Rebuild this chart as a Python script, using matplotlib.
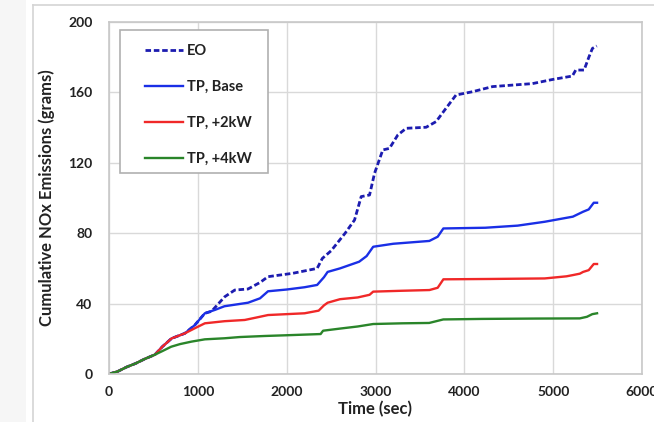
import matplotlib
matplotlib.use("Agg")
import matplotlib.pyplot as plt
from matplotlib.lines import Line2D
from matplotlib.patches import Rectangle

plt.rcParams['font.family'] = ['Lato', 'DejaVu Sans']
plt.rcParams['font.weight'] = 'bold'

# --- data -------------------------------------------------------------
t_eo = [0, 100, 200, 300, 400, 517, 600, 704, 854, 966, 1079, 1154, 1303, 1416,
        1565, 1700, 1790, 2067, 2343, 2402, 2500, 2658, 2764, 2839, 2933, 2989,
        3082, 3157, 3251, 3345, 3570, 3682, 3794, 3906, 4093, 4318, 4767, 4989,
        5216, 5254, 5348, 5404, 5442, 5491]
y_eo = [0, 1.5, 4, 6, 8.5, 11, 15.5, 20.2, 23.1, 27.8, 34.5, 35.6, 43.9, 47.7,
        48.3, 52, 55.3, 57.2, 60, 65.7, 70, 80, 87.5, 100.8, 101.7, 114,
        127.3, 128.2, 135.8, 139.6, 140.2, 143.4, 151, 158.5, 160.4, 163.3, 165, 167.3,
        169.3, 172.7, 172.7, 180.3, 185, 186.4]

t_base = [0, 100, 200, 300, 400, 517, 600, 704, 854, 966, 1079, 1191, 1300, 1565,
          1700, 1790, 2000, 2202, 2343, 2420, 2461, 2600, 2816, 2900, 2974, 3200,
          3606, 3700, 3764, 4236, 4600, 4905, 5222, 5337, 5400, 5457, 5494]
y_base = [0, 1.5, 4, 6, 8.5, 11, 15.5, 20.2, 23.1, 27.8, 34.5, 36.4, 38.5, 40.5,
          43, 47, 48, 49.3, 50.6, 55, 58, 60, 63.8, 67, 72.3, 74,
          75.6, 78, 82.7, 83.1, 84.3, 86.5, 89.4, 92.2, 93.5, 97.3, 97.3]

t_2kw = [0, 100, 200, 300, 400, 517, 600, 704, 854, 966, 1079, 1300, 1528, 1651,
         1790, 2202, 2360, 2420, 2461, 2600, 2800, 2933, 2974, 3300, 3607, 3700,
         3764, 4300, 4905, 5150, 5222, 5300, 5337, 5400, 5457, 5494]
y_2kw = [0, 1.5, 4, 6, 8.5, 11, 15.5, 20.2, 23.1, 26, 28.8, 30, 30.7, 32,
         33.5, 34.5, 36, 39, 40.5, 42.5, 43.5, 45, 46.8, 47.3, 47.7, 49,
         53.8, 54, 54.3, 55.5, 56.2, 57, 58, 59, 62.5, 62.5]

t_4kw = [0, 100, 200, 300, 400, 517, 600, 700, 800, 929, 1079, 1300, 1472, 1753,
         1989, 2382, 2410, 2600, 2800, 2974, 3300, 3604, 3763, 4200, 4800, 5300,
         5380, 5440, 5494]
y_4kw = [0, 1.5, 4, 6, 8.5, 11, 13, 15.5, 17, 18.4, 19.7, 20.3, 21, 21.6,
         22, 22.7, 24.6, 25.8, 27, 28.4, 28.8, 29, 31, 31.3, 31.5, 31.6,
         32.5, 34, 34.5]

x_ticks = [0, 1000, 2000, 3000, 4000, 5000, 6000]
y_ticks = [0, 40, 80, 120, 160, 200]

# --- figure -------------------------------------------------------------
fig = plt.figure(figsize=(6.54, 4.22), dpi=100)
fig.patch.set_facecolor('white')

# cadre de la zone du graphique
fig.add_artist(Rectangle((0, 0), 26/654, 1, transform=fig.transFigure,
                         facecolor='#f6f6f6', edgecolor='none'))
fig.add_artist(Line2D([33/654, 1], [1-5/422, 1-5/422], transform=fig.transFigure,
                      color='#d4d4d4', lw=1.2))
fig.add_artist(Line2D([33/654, 33/654], [0, 1-5/422], transform=fig.transFigure,
                      color='#d4d4d4', lw=1.2))

ax = fig.add_axes([109/654, 1-374/422, 533/654, 352/422])

ax.plot(t_eo, y_eo, color='#1c1cb0', lw=2.0, ls=(0, (2.0, 1.0)), label='EO')
ax.plot(t_base, y_base, color='#1a2fe6', lw=1.7, label='TP, Base')
ax.plot(t_2kw, y_2kw, color='#f02828', lw=1.7, label='TP, +2kW')
ax.plot(t_4kw, y_4kw, color='#2a852a', lw=1.7, label='TP, +4kW')

ax.set_xlim(0, 6000)
ax.set_ylim(0, 200)
ax.set_xticks(x_ticks)
ax.set_yticks(y_ticks)
ax.tick_params(length=0, labelsize=10, colors='#222222')
ax.tick_params(axis='y', pad=12)
ax.tick_params(axis='x', pad=9)
ax.grid(True, color='#d9d9d9', lw=1)
ax.set_axisbelow(True)
for s in ax.spines.values():
    s.set_color('#c8c8c8')
    s.set_linewidth(1.2)

ax.set_xlabel('Time (sec)', fontsize=12, fontweight='bold', labelpad=2, color='#222222')
ax.set_ylabel('Cumulative NOx Emissions (grams)', fontsize=12, fontweight='bold',
              labelpad=9, color='#222222')

# cadre de la légende dessiné à part
ax.add_patch(Rectangle((11/533, 201/352), 148/533, 143/352, transform=ax.transAxes,
                       facecolor='white', edgecolor='#b0b0b0', lw=1.2, zorder=4))
leg = ax.legend(loc='upper left', bbox_to_anchor=(36/533, 330/352), borderaxespad=0,
                fontsize=10.5, handlelength=2.6, handletextpad=0.25, labelspacing=1.5,
                borderpad=0, frameon=False)
leg.set_zorder(5)
for txt in leg.get_texts():
    txt.set_color('#222222')

fig.savefig('out.png', dpi=100)
